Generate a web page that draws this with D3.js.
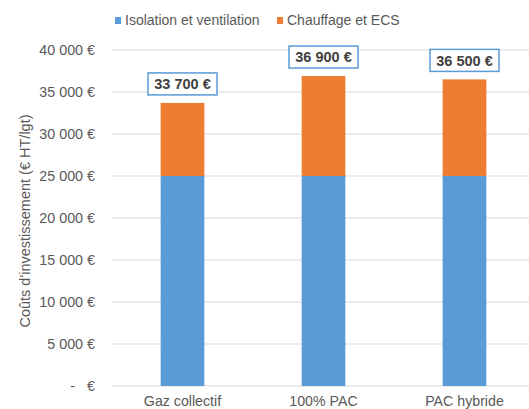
<!DOCTYPE html>
<html><head><meta charset="utf-8">
<script src="https://cdn.jsdelivr.net/npm/d3@7"></script>
<style>body{margin:0;background:#fff}svg{display:block}</style>
</head><body>
<script>
const categories = ["Gaz collectif", "100% PAC", "PAC hybride"];
const isolation = [25000, 25000, 25000];
const chauffage = [8700, 11900, 11500];
const totalLabels = ["33 700 €", "36 900 €", "36 500 €"];
const seriesNames = ["Isolation et ventilation", "Chauffage et ECS"];
const yTicks = [0, 5000, 10000, 15000, 20000, 25000, 30000, 35000, 40000];
const yTickLabels = ["-\u00a0\u00a0\u00a0€", "5 000 €", "10 000 €", "15 000 €", "20 000 €", "25 000 €", "30 000 €", "35 000 €", "40 000 €"];
const colors = ["#5b9bd5", "#ed7d31"];

const W = 529, H = 409;
const svg = d3.select("body").append("svg").attr("width", W).attr("height", H);
const font = "Liberation Sans, Arial, sans-serif";

const x = d3.scaleBand().domain(categories).range([112, 535]).paddingInner(0.69).paddingOuter(0.345);
const y = d3.scaleLinear().domain([0, 40000]).range([386, 50]);

// gridlines
svg.append("g").selectAll("line").data(yTicks).join("line")
  .attr("x1", 112).attr("x2", W)
  .attr("y1", d => y(d)).attr("y2", d => y(d))
  .attr("stroke", "#d9d9d9").attr("stroke-width", 1);

// y tick labels
svg.append("g").selectAll("text").data(yTicks).join("text")
  .attr("x", 95).attr("y", d => y(d)).attr("dy", "0.35em")
  .attr("text-anchor", "end").attr("font-family", font).attr("font-size", 14.3)
  .attr("fill", "#595959")
  .text((d, i) => yTickLabels[i]);

// y title
svg.append("text")
  .attr("transform", `translate(30,${(y(0) + y(40000)) / 2 + 3}) rotate(-90)`)
  .attr("text-anchor", "middle").attr("font-family", font).attr("font-size", 14.5)
  .attr("fill", "#595959").text("Coûts d'investissement (€ HT/lgt)");

// stacked data
const data = categories.map((c, i) => ({ cat: c, a: isolation[i], b: chauffage[i] }));
const stack = d3.stack().keys(["a", "b"])(data);
svg.append("g").selectAll("g").data(stack).join("g")
  .attr("fill", (d, i) => colors[i])
  .selectAll("rect").data(d => d).join("rect")
  .attr("x", d => x(d.data.cat)).attr("width", x.bandwidth())
  .attr("y", d => y(d[1])).attr("height", d => y(d[0]) - y(d[1]));

// x labels
svg.append("g").selectAll("text").data(categories).join("text")
  .attr("x", d => x(d) + x.bandwidth() / 2).attr("y", 406)
  .attr("text-anchor", "middle").attr("font-family", font).attr("font-size", 14.2)
  .attr("fill", "#595959").text(d => d);

// total label boxes
const lab = svg.append("g").selectAll("g").data(data).join("g")
  .attr("transform", (d, i) => `translate(${x(d.cat) + x.bandwidth() / 2},${y(d.a + d.b) - 19})`);
lab.append("rect").attr("x", -34.5).attr("y", -11).attr("width", 69).attr("height", 22)
  .attr("fill", "#fff").attr("stroke", "#5b9bd5").attr("stroke-width", 1.5);
lab.append("text").attr("text-anchor", "middle").attr("dy", "0.36em")
  .attr("font-family", font).attr("font-size", 14.5).attr("font-weight", "bold")
  .attr("fill", "#404040").text((d, i) => totalLabels[i]);

// legend
const leg = [{ x: 115, t: seriesNames[0], c: colors[0] }, { x: 277, t: seriesNames[1], c: colors[1] }];
const lg = svg.append("g").selectAll("g").data(leg).join("g")
  .attr("transform", d => `translate(${d.x},17)`);
lg.append("rect").attr("width", 6).attr("height", 7).attr("y", 0).attr("fill", d => d.c);
lg.append("text").attr("x", 10).attr("y", 3.5).attr("dy", "0.35em")
  .attr("font-family", font).attr("font-size", 14).attr("fill", "#595959").text(d => d.t);
</script>
</body></html>
